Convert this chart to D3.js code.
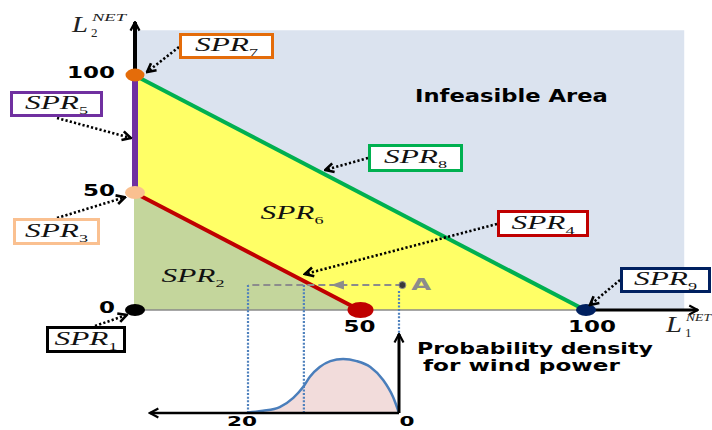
<!DOCTYPE html>
<html>
<head>
<meta charset="utf-8">
<script src="https://cdn.jsdelivr.net/npm/d3@7"></script>
<style>
  html, body { margin: 0; padding: 0; background: #ffffff; }
  svg { display: block; }
</style>
</head>
<body>
<svg id="chart" width="712" height="430"></svg>
<script>
// ---------------- DATA ----------------
const axisTicks = [0, 50, 100];
const windTicks = [20, 0];
const infeasibleArea = [[0, 0], [0, 119], [122, 119], [122, 0]];
const feasibleArea = [[0, 50], [0, 100], [100, 0], [50, 0]];
const spr2Area = [[0, 0], [0, 50], [50, 0]];
const spr5Segment = [[0, 50], [0, 100]];
const spr4Segment = [[0, 50], [50, 0]];
const spr8Segment = [[0, 100], [100, 0]];
const pointNames = ["SPR1", "SPR3", "SPR7", "SPR2corner", "SPR9"];
const pointL1 = [0, 0, 0, 50, 100];
const pointL2 = [0, 50, 100, 0, 0];
const pointA = [59.5, 10.6];
const windPower = [0, 0.8, 2.1, 3.8, 5.6, 7.4, 9.1, 10.5, 11.8, 12.7, 14.0, 15.8, 18.0, 20];
const windDensity = [0, 0.030, 0.061, 0.085, 0.096, 0.100, 0.096, 0.085, 0.067, 0.048, 0.028, 0.011, 0.004, 0.001];
const windMarks = [20, 12.6, 0];
const sprBoxNames = ["1", "3", "5", "7", "8", "4", "9"];
const sprAreaNames = ["6", "2"];
const sprArrowTipL1 = [-1.6, -2, -0.7, 2.9, 42.4, 37.9, 101.1];
const sprArrowTipL2 = [-2.1, 48, 73.2, 101.3, 59.6, 15.3, 2.1];

// ---------------- SETUP ----------------
const svg = d3.select("#chart");
const x = d3.scaleLinear().domain([0, 100]).range([134, 585]);
const y = d3.scaleLinear().domain([0, 100]).range([310, 75]);
const w = d3.scaleLinear().domain([0, 20]).range([399, 248]);
const dens = d3.scaleLinear().domain([0, 0.1]).range([413, 359]);

const defs = svg.append("defs");
function chevronMarker(id, color, sw) {
  defs.append("marker").attr("id", id)
    .attr("viewBox", "0 0 12 12").attr("refX", 10.5).attr("refY", 6)
    .attr("markerWidth", 12).attr("markerHeight", 12)
    .attr("markerUnits", "userSpaceOnUse").attr("orient", "auto")
    .append("path").attr("d", "M2,1.5 L10.5,6 L2,10.5")
    .attr("fill", "none").attr("stroke", color).attr("stroke-width", sw)
    .attr("stroke-linejoin", "miter");
}
chevronMarker("chev", "#000", 2.6);
chevronMarker("axisChev", "#000", 2.2);

const line = d3.line().x(d => x(d[0])).y(d => y(d[1]));
const poly = pts => line(pts) + "Z";

// regions
svg.append("path").attr("d", poly(infeasibleArea)).attr("fill", "#dbe3ef");
svg.append("path").attr("d", poly(feasibleArea)).attr("fill", "#ffff66");
svg.append("path").attr("d", poly(spr2Area)).attr("fill", "#c4d69c");

// x axis (grey thin part + black arrow part)
svg.append("line").attr("x1", x(0)).attr("x2", x(100)).attr("y1", y(0)).attr("y2", y(0))
  .attr("stroke", "#8a8a8a").attr("stroke-width", 1.5);
svg.append("line").attr("x1", x(100)).attr("x2", x(125)).attr("y1", y(0)).attr("y2", y(0))
  .attr("stroke", "#000").attr("stroke-width", 3).attr("marker-end", "url(#axisChev)");
// y axis black arrow above 100
svg.append("line").attr("x1", x(0) + 1).attr("x2", x(0) + 1).attr("y1", y(100)).attr("y2", y(122.5))
  .attr("stroke", "#000").attr("stroke-width", 4).attr("marker-end", "url(#axisChev)");

// boundary lines
svg.append("path").attr("d", line(spr4Segment)).attr("stroke", "#c00000").attr("stroke-width", 4).attr("fill", "none");
svg.append("path").attr("d", line(spr8Segment)).attr("stroke", "#00b050").attr("stroke-width", 4).attr("fill", "none");
svg.append("path").attr("d", line(spr5Segment)).attr("transform", "translate(1,0)")
  .attr("stroke", "#7030a0").attr("stroke-width", 6).attr("fill", "none");

// points
const pointColor = { SPR1: "#000000", SPR3: "#fac090", SPR7: "#e46c0a", SPR2corner: "#c00000", SPR9: "#002060" };
const pointR = { SPR1: [10, 6], SPR3: [10, 6.5], SPR7: [9.5, 6.5], SPR2corner: [13, 8], SPR9: [10, 6] };
pointNames.forEach((n, i) => {
  svg.append("ellipse").attr("cx", x(pointL1[i]) + 1).attr("cy", y(pointL2[i]))
    .attr("rx", pointR[n][0]).attr("ry", pointR[n][1]).attr("fill", pointColor[n]);
});

// ---------------- text helpers ----------------
function fitText(str, cx, by, width, opts) {
  const t = svg.append("text").attr("x", 0).attr("y", 0)
    .attr("font-family", opts.family || "'DejaVu Sans', Verdana, sans-serif")
    .attr("font-weight", opts.weight || "bold")
    .attr("font-style", opts.style || "normal")
    .attr("font-size", opts.size || 16)
    .attr("fill", opts.fill || "#000")
    .attr("text-anchor", opts.anchor || "start")
    .text(str);
  const len = t.node().getComputedTextLength();
  t.attr("transform", `translate(${cx},${by}) scale(${width / len},1)`);
  return t;
}

// tick labels
axisTicks.forEach(v => {
  fitText(String(v), 115, y(v) + 3, 16 * String(v).length, { anchor: "end" });
});
axisTicks.filter(v => v > 0).forEach(v => {
  fitText(String(v), x(v) + (v === 100 ? 7 : 0), 332, 16 * String(v).length, { anchor: "middle" });
});
windTicks.forEach(v => {
  fitText(String(v), w(v) + (v === 0 ? 8 : -6), 426, 15 * String(v).length, { anchor: "middle", size: 14 });
});

// Infeasible Area
fitText("Infeasible Area", 415, 102, 193, { size: 17 });

// axis titles
function axisTitle(px, py, sub, netW) {
  svg.append("text").attr("x", 0).attr("y", 0)
    .attr("transform", `translate(${px},${py}) scale(1.25,1)`)
    .attr("font-family", "'Liberation Serif', 'Times New Roman', serif")
    .attr("font-style", "italic").attr("font-size", 23).attr("fill", "#222").text("L");
  svg.append("text").attr("x", px + 19).attr("y", py + 5)
    .attr("font-family", "'Liberation Serif', serif").attr("font-size", 13).attr("fill", "#222").text(sub);
  fitText("NET", px + 20, py - 11, netW, { family: "'Liberation Serif', serif", weight: "normal", style: "italic", size: 11, fill: "#222" });
}
axisTitle(72, 32, "2", 34);
axisTitle(666, 332, "1", 25);

// ---------------- wind power density ----------------
const windPts = windPower.map((v, i) => [v, windDensity[i]]);
const area = d3.area().x(d => w(d[0])).y0(dens(0)).y1(d => dens(d[1])).curve(d3.curveMonotoneX);
const curve = d3.line().x(d => w(d[0])).y(d => dens(d[1])).curve(d3.curveMonotoneX);
svg.append("path").attr("d", area(windPts)).attr("fill", "#f2dcdb");

// dotted blue verticals
windMarks.forEach(v => {
  const top = y(pointA[1]) + (v === 0 ? 6 : 0);
  const bottom = v === 0 ? 340 : dens(0);
  svg.append("line").attr("x1", w(v)).attr("x2", w(v)).attr("y1", top).attr("y2", bottom)
    .attr("stroke", "#4f81bd").attr("stroke-width", 2.2).attr("stroke-dasharray", "2,1.6");
});
svg.append("path").attr("d", curve(windPts)).attr("fill", "none").attr("stroke", "#4a7ebb").attr("stroke-width", 2.5);

// wind axes
svg.append("line").attr("x1", w(0)).attr("x2", w(33)).attr("y1", dens(0)).attr("y2", dens(0))
  .attr("stroke", "#000").attr("stroke-width", 2.5).attr("marker-end", "url(#axisChev)");
svg.append("line").attr("x1", w(0)).attr("x2", w(0)).attr("y1", dens(0)).attr("y2", 334)
  .attr("stroke", "#000").attr("stroke-width", 3).attr("marker-end", "url(#axisChev)");

fitText("Probability density", 417, 354, 236, { size: 16 });
fitText("for wind power", 423, 371, 197, { size: 16 });

// ---------------- point A and dashed projection ----------------
svg.append("line").attr("x1", x(pointA[0])).attr("x2", w(20)).attr("y1", y(pointA[1])).attr("y2", y(pointA[1]))
  .attr("stroke", "#8c8c8c").attr("stroke-width", 2).attr("stroke-dasharray", "7,4");
const ax = x(45), ay = y(pointA[1]);
svg.append("path").attr("d", `M${ax - 6},${ay} L${ax + 7},${ay - 4.5} L${ax + 7},${ay + 4.5}Z`).attr("fill", "#8c8c8c");
svg.append("circle").attr("cx", x(pointA[0])).attr("cy", y(pointA[1])).attr("r", 3.5)
  .attr("fill", "#3a3a3a").attr("stroke", "#8c8c8c").attr("stroke-width", 1);
fitText("A", x(pointA[0]) + 9, y(pointA[1]) + 4.5, 20, { size: 15, fill: "#8c8c8c" });

// ---------------- SPR labels ----------------
function sprText(num, cx, by) {
  const t = svg.append("text").attr("x", 0).attr("y", 0)
    .attr("font-family", "'Liberation Serif', 'Times New Roman', serif")
    .attr("font-style", "italic").attr("font-size", 19).attr("fill", "#111")
    .attr("text-anchor", "middle");
  t.append("tspan").text("SPR");
  t.append("tspan").attr("dy", 5).attr("font-size", 11).attr("font-style", "normal").text(num);
  const len = t.node().getComputedTextLength();
  t.attr("transform", `translate(${cx},${by}) scale(${63 / len},1)`);
}
const boxStyle = {
  "1": { color: "#000000", box: [46, 326, 80, 27], start: [95, 326] },
  "3": { color: "#fac090", box: [13, 218, 87, 27], start: [57, 218] },
  "5": { color: "#7030a0", box: [10, 91, 93, 26], start: [57, 118] },
  "7": { color: "#e46c0a", box: [179, 33, 95, 26], start: [179, 47] },
  "8": { color: "#00b050", box: [368, 144, 95, 28], start: [368, 158] },
  "4": { color: "#c00000", box: [497, 210, 92, 27], start: [497, 224] },
  "9": { color: "#002060", box: [620, 267, 91, 26], start: [620, 280] }
};
sprBoxNames.forEach((n, i) => {
  const s = boxStyle[n];
  svg.append("line").attr("x1", s.start[0]).attr("y1", s.start[1])
    .attr("x2", x(sprArrowTipL1[i])).attr("y2", y(sprArrowTipL2[i]))
    .attr("stroke", "#000").attr("stroke-width", 2.6).attr("stroke-dasharray", "2.2,2.2")
    .attr("marker-end", "url(#chev)");
});
sprBoxNames.forEach(n => {
  const s = boxStyle[n];
  const [bx, by, bw, bh] = s.box;
  svg.append("rect").attr("x", bx + 1.5).attr("y", by + 1.5).attr("width", bw - 3).attr("height", bh - 3)
    .attr("fill", "#fff").attr("stroke", s.color).attr("stroke-width", 3);
  sprText(n, bx + bw / 2, by + bh / 2 + 5);
});
const areaLabelPos = { "6": [292, 219], "2": [193, 282] };
sprAreaNames.forEach(n => sprText(n, areaLabelPos[n][0], areaLabelPos[n][1]));
</script>
</body>
</html>
